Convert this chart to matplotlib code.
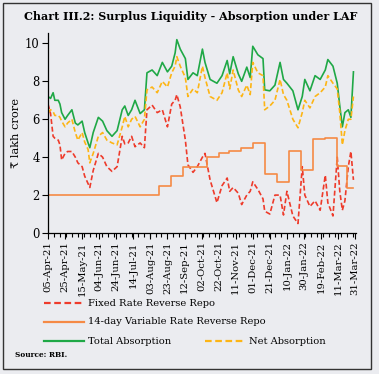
import matplotlib
matplotlib.use("Agg")
import matplotlib.pyplot as plt
from matplotlib.lines import Line2D
from matplotlib.patches import Rectangle
import pandas as pd

# ---------------- data ----------------
dates = ["2021-04-05","2021-04-08","2021-04-11","2021-04-13","2021-04-17","2021-04-19","2021-04-21",
         "2021-04-25","2021-04-28","2021-05-03","2021-05-07","2021-05-10","2021-05-15","2021-05-18",
         "2021-05-22","2021-05-24","2021-05-28","2021-06-03","2021-06-08","2021-06-13","2021-06-19",
         "2021-06-25","2021-07-01","2021-07-04","2021-07-08","2021-07-12","2021-07-16","2021-07-22",
         "2021-07-27","2021-07-30","2021-08-05","2021-08-11","2021-08-17","2021-08-23","2021-08-28",
         "2021-09-01","2021-09-03","2021-09-07","2021-09-13","2021-09-16","2021-09-22","2021-09-27",
         "2021-10-03","2021-10-06","2021-10-12","2021-10-20","2021-10-26","2021-11-01","2021-11-04",
         "2021-11-08","2021-11-14","2021-11-18","2021-11-24","2021-11-28","2021-12-01","2021-12-07",
         "2021-12-13","2021-12-15","2021-12-21","2021-12-27","2022-01-02","2022-01-06","2022-01-10",
         "2022-01-17","2022-01-23","2022-01-28","2022-01-31","2022-02-06","2022-02-12","2022-02-18",
         "2022-02-24","2022-02-27","2022-03-05","2022-03-10","2022-03-13","2022-03-16","2022-03-19",
         "2022-03-23","2022-03-26","2022-03-29"]

total_absorption = [7.2,7.1,7.4,7.0,7.0,6.8,6.35,6.0,6.2,6.5,5.8,5.7,5.9,5.3,4.75,4.5,5.3,6.1,5.9,5.4,
                    5.1,5.4,6.5,6.7,6.2,6.5,7.0,6.3,6.5,8.45,8.6,8.3,9.0,8.5,8.8,9.5,10.2,9.7,9.2,8.1,
                    8.45,8.3,9.7,9.0,8.1,7.9,8.3,9.1,8.4,9.3,8.4,8.0,8.75,8.2,9.85,9.4,9.2,7.55,7.5,7.8,
                    9.0,8.1,7.9,7.5,6.5,7.2,8.1,7.5,8.3,8.1,8.6,9.15,8.8,7.9,6.7,5.6,6.35,6.5,6.1,8.5]

net_absorption = [6.35,6.5,6.4,6.2,6.2,6.1,5.9,5.6,5.8,6.0,5.3,4.9,5.3,4.8,4.4,3.7,4.2,5.1,5.3,4.9,
                  4.75,4.65,5.6,6.15,5.6,6.0,6.15,5.6,6.0,7.55,7.7,7.4,8.0,7.7,8.45,8.8,9.3,8.8,8.2,7.2,
                  7.6,7.4,8.8,8.2,7.2,7.0,7.4,8.45,7.6,8.6,7.55,7.2,7.8,7.3,9.0,8.45,8.3,6.5,6.7,7.0,
                  8.1,7.3,7.0,6.0,5.55,6.35,7.0,6.6,7.2,7.4,7.7,8.3,7.9,7.6,6.35,4.65,5.4,6.0,6.0,7.2]

fixed_rate_rr = [6.8,6.3,5.1,5.0,4.9,4.65,3.85,4.2,4.3,4.3,4.0,3.7,3.5,3.0,2.6,2.4,3.3,4.2,4.0,3.5,
                 3.25,3.5,5.1,4.7,4.75,5.1,4.55,4.75,4.5,6.5,6.75,6.35,6.5,5.6,6.8,7.0,7.3,6.65,4.9,3.6,
                 3.2,3.5,4.0,4.2,2.8,1.6,2.5,2.9,2.2,2.4,2.1,1.5,2.0,2.2,2.7,2.3,1.8,1.15,1.0,2.0,
                 2.0,0.95,2.2,0.9,0.5,3.5,2.0,1.4,1.7,1.2,3.05,1.6,0.9,4.0,2.2,1.2,1.7,3.5,4.3,2.8]

vrrr_dates = ["2021-04-05","2021-08-13","2021-08-27","2021-09-10","2021-10-08","2021-10-22",
              "2021-11-03","2021-11-17","2021-12-01","2021-12-15","2021-12-29","2022-01-13",
              "2022-01-27","2022-02-10","2022-02-24","2022-03-10","2022-03-22","2022-03-29"]
vrrr_values = [2.0,2.5,3.0,3.5,4.0,4.2,4.35,4.5,4.75,3.1,2.7,4.3,3.3,4.95,5.0,3.55,2.4,2.4]

tick_dates = ["2021-04-05","2021-04-25","2021-05-15","2021-06-04","2021-06-24","2021-07-14",
              "2021-08-03","2021-08-23","2021-09-12","2021-10-02","2021-10-22","2021-11-11",
              "2021-12-01","2021-12-21","2022-01-10","2022-01-30","2022-02-19","2022-03-11","2022-03-31"]
y_ticks = [0, 2, 4, 6, 8, 10]

title = "Chart III.2: Surplus Liquidity - Absorption under LAF"
ylabel = "₹ lakh crore"
legend_labels = ["Fixed Rate Reverse Repo", "14-day Variable Rate Reverse Repo",
                 "Total Absorption", "Net Absorption"]
source = "Source: RBI."

# ---------------- style ----------------
BG = "#EBECF0"
RED = "#EE3B2B"
ORANGE = "#F58A45"
GREEN = "#1FA846"
YELLOW = "#FDB515"
FONT = ["DejaVu Serif", "DejaVu Sans"]
plt.rcParams["font.family"] = FONT

W, H = 379, 374
fig = plt.figure(figsize=(W / 100, H / 100), dpi=100, facecolor=BG)
ax = fig.add_axes([48 / W, 1 - 233 / H, (356 - 48) / W, (233 - 33) / H])
ax.set_facecolor(BG)

x = pd.to_datetime(dates)
xv = pd.to_datetime(vrrr_dates)

lw = 1.2
ax.plot(x, fixed_rate_rr, color=RED, lw=lw, dashes=(3, 1.6))
ax.step(xv, vrrr_values, where="post", color=ORANGE, lw=lw)
ax.plot(x, total_absorption, color=GREEN, lw=lw)
ax.plot(x, net_absorption, color=YELLOW, lw=lw, dashes=(3, 1.6))

ax.set_ylim(0, 10.55)
ax.set_xlim(pd.Timestamp("2021-04-05"), pd.Timestamp("2022-04-01"))
ax.set_yticks(y_ticks)
ax.set_yticklabels([str(t) for t in y_ticks], fontsize=8.3)
td = pd.to_datetime(tick_dates)
ax.set_xticks(td)
ax.set_xticklabels([d.strftime("%d-%b-%y") for d in td], rotation=90, fontsize=7.2)
minor = pd.date_range("2021-04-05", "2022-03-31", freq="7D")
ax.set_xticks(minor, minor=True)
ax.tick_params(axis="x", which="major", length=4, width=0.8, direction="out", pad=2)
ax.tick_params(axis="x", which="minor", length=3, width=0.8, direction="out")
ax.tick_params(axis="y", length=4, width=0.8, direction="out", pad=2)
for s in ["top", "right"]:
    ax.spines[s].set_visible(False)
for s in ["left", "bottom"]:
    ax.spines[s].set_linewidth(0.9)
ax.set_ylabel(ylabel, fontsize=8.2, labelpad=3)

# title
fig.text(191 / W, 1 - 17 / H, title, ha="center", va="center", fontsize=8.0, fontweight="bold")

# legend (manual layout)
def leg(x0, y, label, color, dashed):
    line = Line2D([x0 / W, (x0 + 40) / W], [1 - y / H, 1 - y / H], transform=fig.transFigure,
                  color=color, lw=1.6, dashes=(3, 1.6) if dashed else (None, None))
    fig.add_artist(line)
    fig.text((x0 + 44) / W, 1 - y / H, label, ha="left", va="center", fontsize=7.1)

leg(44, 303, legend_labels[0], RED, True)
leg(44, 322, legend_labels[1], ORANGE, False)
leg(44, 341, legend_labels[2], GREEN, False)
leg(205, 341, legend_labels[3], YELLOW, True)

fig.text(15 / W, 1 - 355 / H, source, ha="left", va="center", fontsize=5.3, fontweight="bold")

# border
fig.add_artist(Rectangle((3 / W, 1 - 369 / H), (371 - 3) / W, (369 - 3) / H, transform=fig.transFigure,
                         fill=False, edgecolor="#333333", lw=1.0))

fig.savefig("out.png", dpi=100, facecolor=BG)
